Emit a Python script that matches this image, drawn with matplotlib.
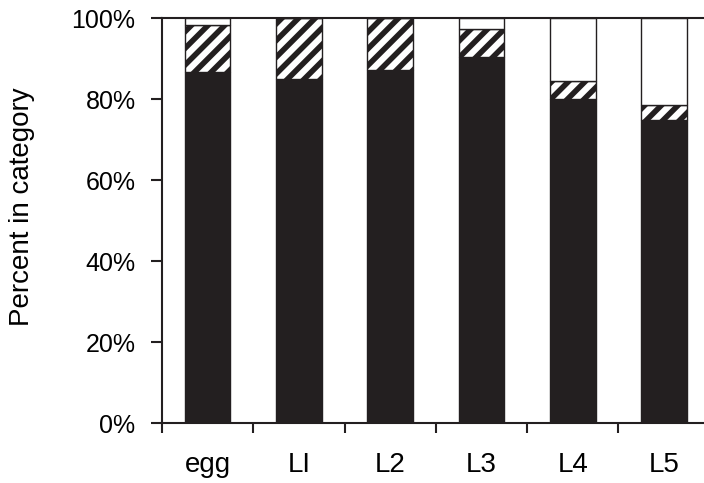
import numpy as np
import matplotlib
matplotlib.use("Agg")
import matplotlib.pyplot as plt

plt.rcParams['font.family'] = ['Liberation Sans', 'DejaVu Sans']
plt.rcParams['hatch.linewidth'] = 4.0
plt.rcParams['hatch.color'] = '#231f20'

# Stages and cumulative percentages (top of each stacked segment)
stages = ['egg', 'LI', 'L2', 'L3', 'L4', 'L5']
black_top = [86.6, 85.0, 87.1, 90.4, 80.1, 74.8]
hatch_top = [98.3, 100.0, 100.0, 97.4, 84.5, 78.5]
total = [100, 100, 100, 100, 100, 100]

black = np.array(black_top)
hatched = np.array(hatch_top) - black
white = np.array(total) - np.array(hatch_top)

fig = plt.figure(figsize=(7.04, 4.83), dpi=100)
ax = fig.add_axes([0.2301, 0.1242, 0.778, 0.8385])

x = np.arange(len(stages))
ink = '#231f20'
w = 0.5
ax.bar(x, black, width=w, color=ink, edgecolor=ink, linewidth=1.0)
ax.bar(x, hatched, width=w, bottom=black, color='white', edgecolor=ink,
       hatch='//', linewidth=1.0)
ax.bar(x, white, width=w, bottom=black + hatched, color='white',
       edgecolor=ink, linewidth=1.0)

ax.set_xlim(-0.5, 5.5)
ax.set_ylim(0, 100)

# boundaries between stages carry the tick marks, labels sit at the centres
ax.set_xticks(np.arange(-0.5, 6.0, 1.0))
ax.set_xticklabels([])
ax.set_xticks(x, minor=True)
ax.set_xticklabels(stages, minor=True, fontsize=20)
ax.tick_params(axis='x', which='major', direction='out', length=7.5,
               width=1.5, color=ink)
ax.tick_params(axis='x', which='minor', length=0, pad=21)

ax.set_yticks(np.arange(0, 101, 20))
ax.set_yticklabels([f'{v}%' for v in range(0, 101, 20)], fontsize=18)
ax.tick_params(axis='y', direction='out', length=8, width=1.5,
               color=ink, pad=11)
ax.set_ylabel('Percent in category', fontsize=20)
ax.yaxis.set_label_coords(-0.232, 0.533)

for side in ['left', 'bottom', 'top', 'right']:
    ax.spines[side].set_linewidth(1.5)
    ax.spines[side].set_color(ink)

fig.savefig('out.png', dpi=100)
